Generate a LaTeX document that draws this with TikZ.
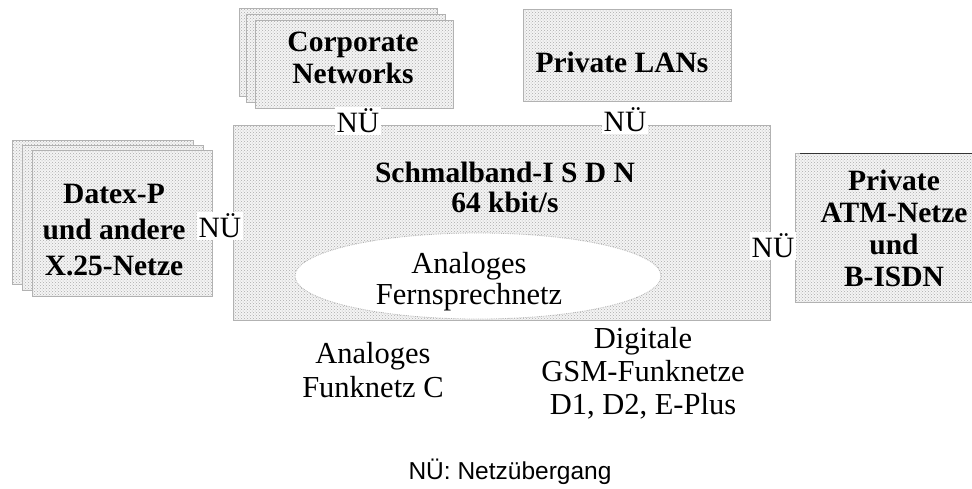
\documentclass[tikz,border=0pt]{standalone}
\usepackage{fontspec}
\setmainfont{Liberation Serif}
\newfontfamily\legendfont{Liberation Sans}
\usetikzlibrary{patterns,shapes.geometric}
\tikzset{
  tex/.style={preaction={fill=gray!9}, pattern=crosshatch dots, pattern color=gray!65, draw=gray!60, line width=0.7pt},
  lbl/.style={align=center, inner sep=0pt, font=\fontsize{30.5}{#1}\selectfont},
  blbl/.style={align=center, inner sep=0pt, font=\fontsize{29.5}{#1}\selectfont\bfseries},
  nue/.style={fill=white, inner sep=1.5pt, font=\fontsize{29.5}{30}\selectfont},
}
\begin{document}
\begin{tikzpicture}[x=1pt,y=-1pt]
\useasboundingbox[fill=white] (0,0) rectangle (972,488);
% central ISDN region
\draw[tex] (233,125) rectangle (770,320);
\node[draw=gray!60, densely dotted, line width=0.8pt, fill=white, ellipse, minimum width=366pt, minimum height=86pt, inner sep=0pt] (analog) at (478,276) {};
% Corporate Networks (stacked)
\draw[tex] (239,8) rectangle (437,96);
\draw[tex] (246,14) rectangle (445,102);
\draw[tex] (255,20) rectangle (453,108);
% Private LANs
\draw[tex] (523,9) rectangle (731,101);
% Datex-P (stacked)
\draw[tex] (12,140) rectangle (193,284);
\draw[tex] (22,145) rectangle (203,290);
\draw[tex] (32,150) rectangle (212,296);
% Private ATM
\draw[tex] (795,153) rectangle (975,302);
\draw[black!80, line width=1pt] (800,153) -- (972,153);
% labels in boxes
\node[blbl=32] (corptxt) at (353,58) {Corporate\\Networks};
\node[blbl=32] (lantxt) at (622,62) {Private LANs};
\node[blbl=30] (isdn) at (505,187) {Schmalband-I S D N\\64 kbit/s};
\node[blbl=36] (datex) at (114,230) {Datex-P\\und andere\\X.25-Netze};
\node[blbl=32] (atm) at (894,228) {Private\\ATM-Netze\\und\\B-ISDN};
\node[lbl=31] (analogtxt) at (469,282) {Analoges\\Fernsprechnetz};
% NÜ labels
\node[nue] (n1) at (358,121) {NÜ};
\node[nue] (n2) at (625,120) {NÜ};
\node[nue] (n3) at (220,226) {NÜ};
\node[nue] (n4) at (773,246) {NÜ};
% outside labels
\node[lbl=34] (funk) at (373,370) {Analoges\\Funknetz C};
\node[lbl=33] (gsm) at (643,373) {Digitale\\GSM-Funknetze\\D1, D2, E-Plus};
\node[inner sep=0pt, font=\legendfont\fontsize{24.5}{26}\selectfont] (legend) at (510,472) {NÜ: Netzübergang};
\end{tikzpicture}
\end{document}
